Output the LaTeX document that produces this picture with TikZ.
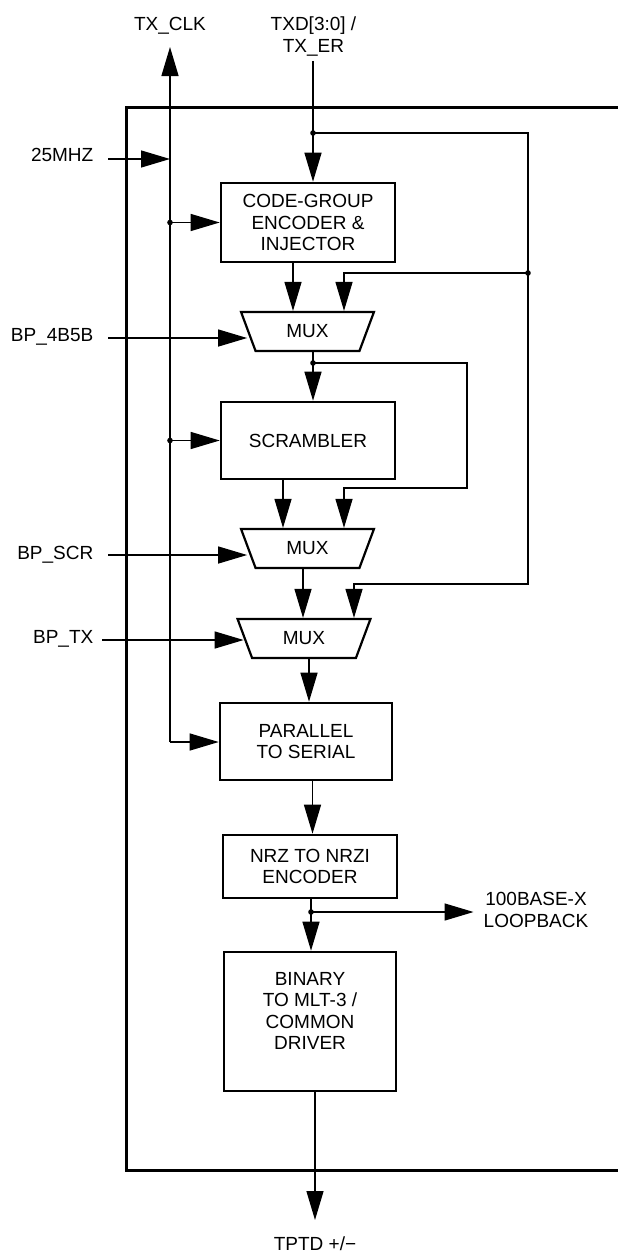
\documentclass[tikz,border=0pt]{standalone}
\usepackage{fontspec}
\setmainfont{Liberation Sans}
\usetikzlibrary{arrows.meta,shapes.geometric}

\begin{document}
\begin{tikzpicture}[x=1pt, y=-1pt, >={Triangle[length=29pt,width=17pt]},
    font=\fontsize{19}{21.5}\selectfont,
    wire/.style={line width=1.3pt},
    block/.style={draw, line width=2.6pt, align=center, inner sep=0pt},
    mux/.style={draw, line width=2.2pt, trapezium, trapezium angle=66, trapezium stretches=true,
        shape border rotate=180, minimum width=133pt, minimum height=39pt, inner sep=0pt},
    sig/.style={inner sep=0pt, anchor=base east}]
    \useasboundingbox (0,0) rectangle (618,1255);
    \draw[line width=3pt] (620,107) -- (126,107) -- (126,1170) -- (620,1170);

    \node[block, minimum width=174pt, minimum height=79pt] (cge) at (308,222.5) {CODE-GROUP\\ENCODER \&\\INJECTOR};
    \node[mux] (mux1) at (307.5,331.5) {MUX};
    \node[block, minimum width=174pt, minimum height=77pt] (scr) at (308,440.5) {SCRAMBLER};
    \node[mux] (mux2) at (307.5,548.5) {MUX};
    \node[mux] (mux3) at (304,638.5) {MUX};
    \node[block, minimum width=172pt, minimum height=77pt] (p2s) at (306,741.5) {PARALLEL\\TO SERIAL};
    \node[block, minimum width=174pt, minimum height=63pt] (nrz) at (310,866.5) {NRZ TO NRZI\\ENCODER};
    \node[block, minimum width=172pt, minimum height=139pt] (bin) at (310,1021.5) {BINARY\\TO MLT-3 /\\COMMON\\DRIVER\\\mbox{}};

    \node[anchor=base, inner sep=0pt] (txclk) at (170,30.5) {TX\_CLK};
    \node[align=center, inner sep=0pt] (txd) at (313.5,36.5) {TXD[3:0] /\\TX\_ER};
    \node[sig] (l25) at (93.5,161.5) {25MHZ};
    \node[sig] (l4b5b) at (93.5,341.5) {BP\_4B5B};
    \node[sig] (lscr) at (93.5,559.5) {BP\_SCR};
    \node[sig] (ltx) at (93.5,643.5) {BP\_TX};
    \node[align=center, inner xsep=10pt, inner ysep=0pt] (loop) at (536,910) {100BASE-X\\LOOPBACK};
    \node[anchor=base, inner sep=0pt] (tptd) at (315,1250) {TPTD +/−};

    \coordinate (clktop) at (170,47);
    \coordinate (clkbot) at (170,742);
    \coordinate (txdin) at (313,61);
    \coordinate (dtxd) at (313,133);
    \coordinate (dfb) at (528,273);
    \coordinate (fb1) at (344,273);
    \coordinate (fb2) at (344,488);
    \coordinate (fb3) at (354,584);
    \coordinate (dmux) at (313,363);
    \coordinate (dnrz) at (311,912);
    \coordinate (s25) at (108,159);
    \coordinate (s4b5b) at (108,338);
    \coordinate (sscr) at (108,555);
    \coordinate (stx) at (102,640);
    \coordinate (tptdtip) at (315,1220);
    \coordinate (o1) at ([xshift=-15pt]cge.south);
    \coordinate (o2) at ([xshift=-25pt]scr.south);
    \coordinate (o3) at ([xshift=-4.5pt]mux2.south);
    \coordinate (o4) at ([xshift=5pt]mux3.south);
    \coordinate (o5) at ([xshift=6.5pt]p2s.south);

    \draw[wire,->] (clkbot) -- (clktop);
    \draw[wire,->] (clkbot) -- (clkbot -| p2s.west);
    \foreach \b in {cge,scr} {
        \draw[wire,->] (\b.west -| clkbot) -- (\b.west);
        \fill (\b.west -| clkbot) circle (2.8pt);
    }
    \draw[wire,->] (s25) -- (s25 -| clkbot);
    \foreach \s/\m in {s4b5b/mux1,sscr/mux2,stx/mux3}
        \draw[wire,->] (\s) -- (\s -| \m.west);

    \draw[wire] (txdin) -- (dtxd);
    \draw[wire,->] (dtxd) -- (dtxd |- cge.north);
    \draw[wire,->] (dtxd) -| (dfb) |- (fb3) -- (fb3 |- mux3.north);
    \draw[wire,->] (dfb) -- (fb1) -- (fb1 |- mux1.north);
    \draw[wire,->] (o1) -- (o1 |- mux1.north);

    \draw[wire] (dmux |- mux1.south) -- (dmux);
    \draw[wire,->] (dmux) -- (dmux |- scr.north);
    \draw[wire,->] (dmux) -- ++(154,0) |- (fb2) -- (fb2 |- mux2.north);
    \draw[wire,->] (o2) -- (o2 |- mux2.north);
    \draw[wire,->] (o3) -- (o3 |- mux3.north);
    \draw[wire,->] (o4) -- (o4 |- p2s.north);
    \draw[wire,->] (o5) -- (o5 |- nrz.north);

    \draw[wire] (dnrz |- nrz.south) -- (dnrz);
    \draw[wire,->] (dnrz) -- (dnrz |- bin.north);
    \draw[wire,->] (dnrz) -- (dnrz -| loop.west);
    \draw[wire,->] (tptdtip |- bin.south) -- (tptdtip);

    \foreach \d in {dtxd,dfb,dmux,dnrz}
        \fill (\d) circle (2.8pt);
\end{tikzpicture}
\end{document}
